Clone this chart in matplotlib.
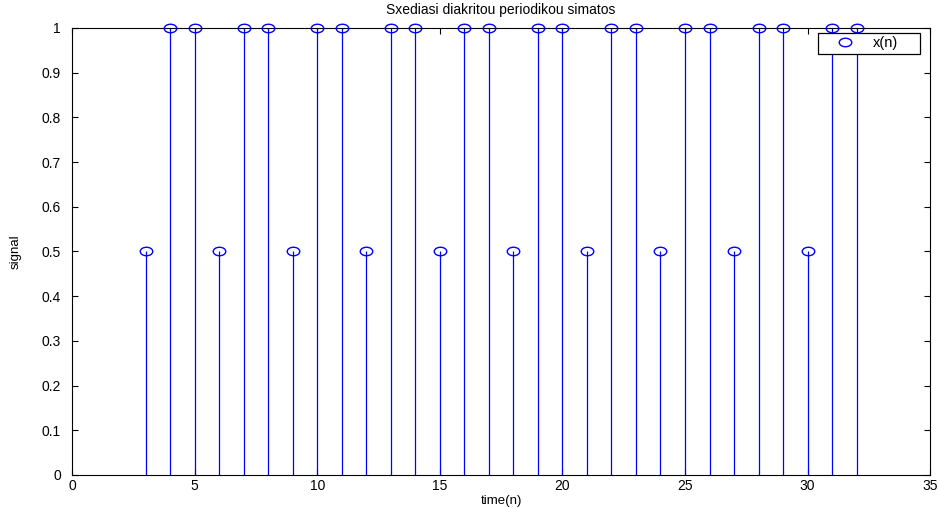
"""Stem plot of a discrete periodic signal (MATLAB-style look)."""

import matplotlib
matplotlib.use("Agg")
import matplotlib.pyplot as plt
from matplotlib.path import Path
from matplotlib.lines import Line2D
from matplotlib.patches import Rectangle

# Data: samples n = 3..32, period of 3 -> 0.5, 1, 1
n_values = list(range(3, 33))
x_values = [0.5, 1, 1, 0.5, 1, 1, 0.5, 1, 1, 0.5,
            1, 1, 0.5, 1, 1, 0.5, 1, 1, 0.5, 1,
            1, 0.5, 1, 1, 0.5, 1, 1, 0.5, 1, 1]

x_ticks = [0, 5, 10, 15, 20, 25, 30, 35]
y_ticks = [0, 0.1, 0.2, 0.3, 0.4, 0.5, 0.6, 0.7, 0.8, 0.9, 1]
y_tick_labels = ["0", "0.1", "0.2", "0.3", "0.4", "0.5", "0.6", "0.7", "0.8", "0.9", "1"]

plt.rcParams["font.family"] = ["Liberation Sans", "DejaVu Sans"]

# slightly squashed circle, like the old matlab screenshot
circ = Path.unit_circle()
ellipse = Path(circ.vertices * [1.0, 0.68], circ.codes)

fig = plt.figure(figsize=(9.4, 5.08), dpi=100)
ax = fig.add_axes([0.0766, 0.065, 0.913, 0.880])

markerline, stemlines, baseline = ax.stem(n_values, x_values)
plt.setp(stemlines, color="blue", linewidth=0.9)
plt.setp(markerline, marker=ellipse, markersize=9, markerfacecolor="none",
         markeredgecolor="blue", markeredgewidth=1.0, clip_on=False, zorder=5)
baseline.set_visible(False)

ax.set_xlim(0, 35)
ax.set_ylim(0, 1)
ax.set_xticks(x_ticks)
ax.set_yticks(y_ticks)
ax.set_yticklabels(y_tick_labels)
ax.tick_params(direction="in", length=4, labelsize=10, top=True, right=True, width=0.8)
ax.tick_params(axis="y", pad=8)
ax.tick_params(axis="x", pad=3)
for side in ax.spines.values():
    side.set_linewidth(0.8)

ax.set_title("Sxediasi diakritou periodikou simatos", fontsize=10, pad=10)
ax.set_xlabel("time(n)", fontsize=9.5, labelpad=1)
ax.set_ylabel("signal", fontsize=9.5, labelpad=14)

# legend box drawn separately: matlab leaves extra room right of the label
ax.add_patch(Rectangle((0.8695, 0.9418), 0.1188, 0.047, transform=ax.transAxes,
                       facecolor="white", edgecolor="black", linewidth=0.9,
                       zorder=6, clip_on=False))
handle = Line2D([], [], linestyle="none", marker=ellipse, markersize=9,
                markerfacecolor="none", markeredgecolor="blue", markeredgewidth=1.0)
leg = ax.legend([handle], ["x(n)"], loc="center left", bbox_to_anchor=(0.8788, 0.9653),
                frameon=False, fontsize=10.5, handlelength=2.6, borderpad=0,
                handletextpad=0.6, borderaxespad=0)
leg.set_zorder(7)

fig.savefig("out.png", dpi=100)
